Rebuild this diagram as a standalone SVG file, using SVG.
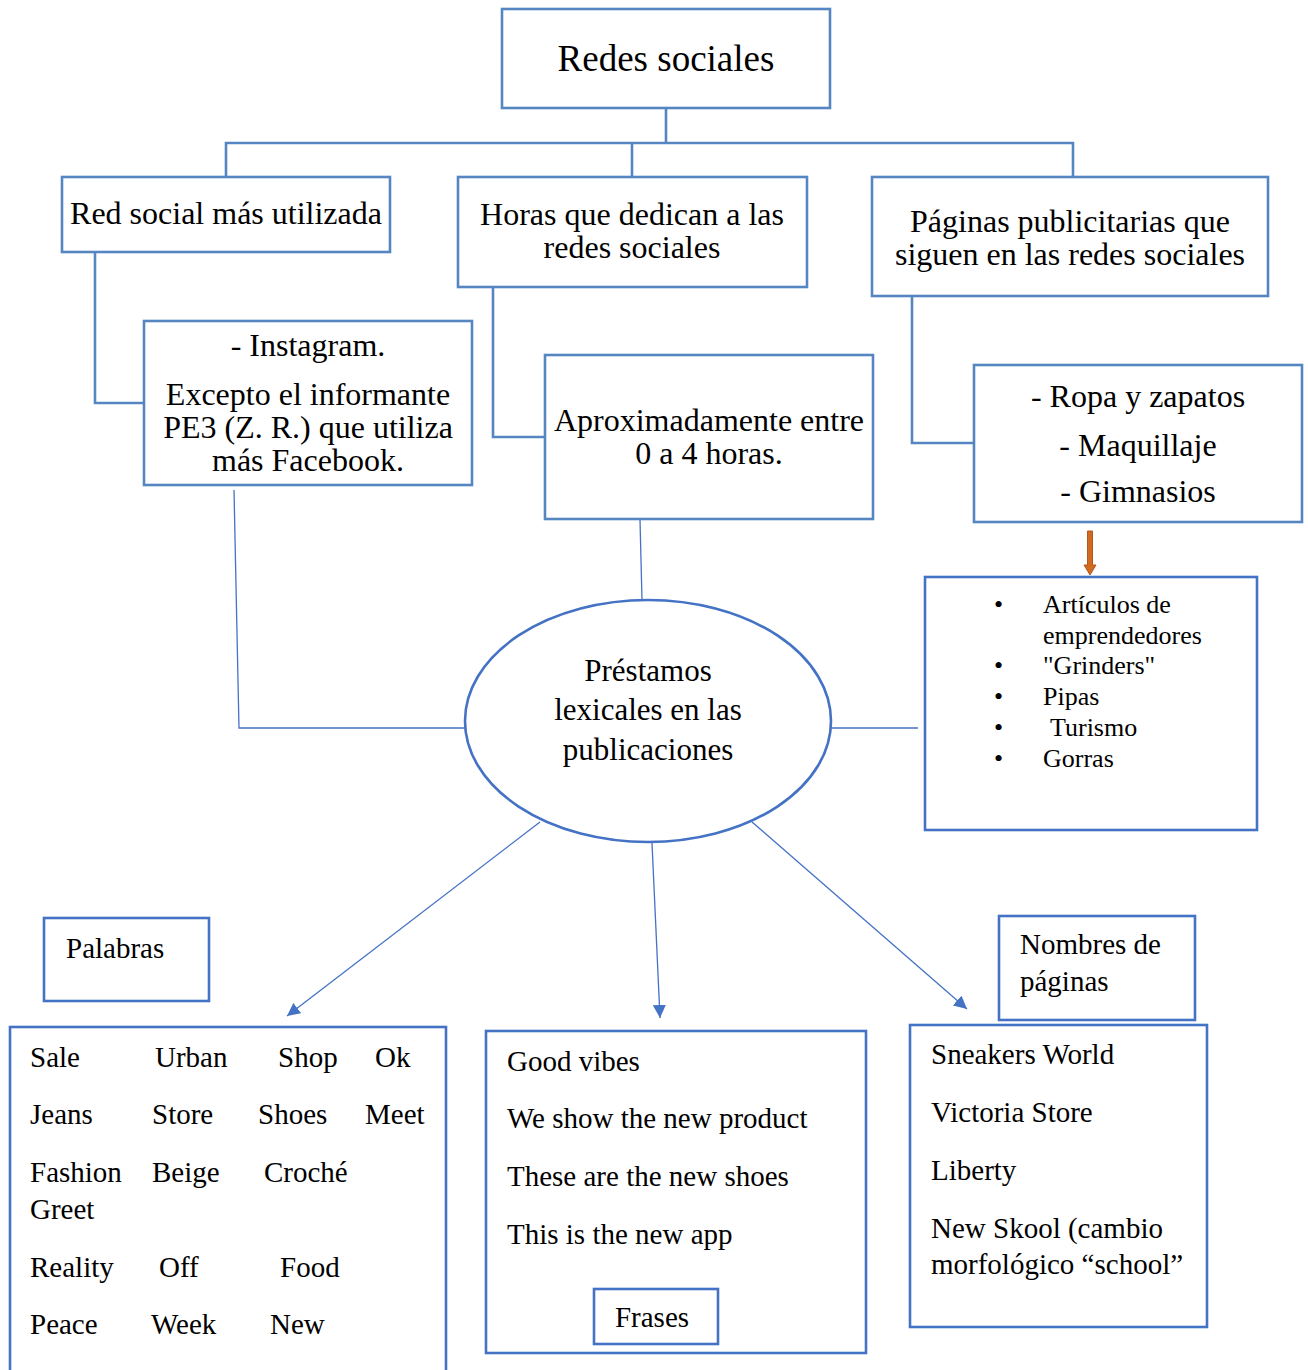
<svg xmlns="http://www.w3.org/2000/svg" width="1308" height="1370" viewBox="0 0 1308 1370">
<style>
  text { font-family: "Liberation Serif", "Times New Roman", serif; fill: #000; }
  .top { fill: #fff; stroke: #5586c2; stroke-width: 2.6; }
  .low { fill: #fff; stroke: #4472c4; stroke-width: 2.6; }
  .tree { fill: none; stroke: #5586c2; stroke-width: 2.6; }
  .thin { fill: none; stroke: #4472c4; stroke-width: 1.3; }
  .t32 { font-size: 32px; }
  .t29 { font-size: 29px; }
  .t26 { font-size: 26px; }
  .c { text-anchor: middle; }
</style>
<defs>
  <marker id="ah" viewBox="0 0 10 10" refX="10" refY="5" markerWidth="13" markerHeight="13" markerUnits="userSpaceOnUse" orient="auto">
    <path d="M0,0 L10,5 L0,10 Z" fill="#4472c4"/>
  </marker>
</defs>
<rect width="1308" height="1370" fill="#fff"/>

<g id="connectors">
  <path class="tree" d="M666,108 V143 M226,177 V143 H1073 V177 M632,143 V177"/>
  <path class="tree" d="M95,252 V403 H144"/>
  <path class="tree" d="M493,287 V437 H545"/>
  <path class="tree" d="M912,296 V443 H973"/>
  <path class="thin" d="M234,490 L239,728 H465"/>
  <path class="thin" d="M640,520 L642,600"/>
  <path class="thin" d="M831,728 H918"/>
  <path class="thin" d="M540,822 L287,1016" marker-end="url(#ah)"/>
  <path class="thin" d="M652,843 L660,1018" marker-end="url(#ah)"/>
  <path class="thin" d="M752,822 L967,1009" marker-end="url(#ah)"/>
  <path d="M1087.5,531 H1092.5 V565 H1096 L1090,575 L1084,565 H1087.5 Z" fill="#d2691e" stroke="#ae5a21" stroke-width="1"/>
</g>

<g id="n-title">
  <rect class="top" x="502" y="9" width="328" height="99"/>
  <text class="c" x="666" y="71" font-size="37">Redes sociales</text>
</g>
<g id="n-red">
  <rect class="top" x="62" y="177" width="328" height="75"/>
  <text class="c t32" x="226" y="224">Red social más utilizada</text>
</g>
<g id="n-horas">
  <rect class="top" x="458" y="177" width="349" height="110"/>
  <text class="c t32" x="632" y="225">Horas que dedican a las</text>
  <text class="c t32" x="632" y="258">redes sociales</text>
</g>
<g id="n-paginas">
  <rect class="top" x="872" y="177" width="396" height="119"/>
  <text class="c t32" x="1070" y="232">Páginas publicitarias que</text>
  <text class="c t32" x="1070" y="265">siguen en las redes sociales</text>
</g>
<g id="n-instagram">
  <rect class="top" x="144" y="321" width="328" height="164"/>
  <text class="c t32" x="308" y="356">- Instagram.</text>
  <text class="c t32" x="308" y="405">Excepto el informante</text>
  <text class="c t32" x="308" y="438">PE3 (Z. R.) que utiliza</text>
  <text class="c t32" x="308" y="471">más Facebook.</text>
</g>
<g id="n-aprox">
  <rect class="top" x="545" y="355" width="328" height="164"/>
  <text class="c t32" x="709" y="431">Aproximadamente entre</text>
  <text class="c t32" x="709" y="464">0 a 4 horas.</text>
</g>
<g id="n-ropa">
  <rect class="top" x="974" y="365" width="328" height="157"/>
  <text class="c t32" x="1138" y="407">- Ropa y zapatos</text>
  <text class="c t32" x="1138" y="456">- Maquillaje</text>
  <text class="c t32" x="1138" y="502">- Gimnasios</text>
</g>
<g id="n-articulos">
  <rect class="low" x="925" y="577" width="332" height="253"/>
  <g class="t26">
    <text x="994" y="613">•</text><text x="1043" y="613">Artículos de</text>
    <text x="1043" y="644">emprendedores</text>
    <text x="994" y="674">•</text><text x="1043" y="674">"Grinders"</text>
    <text x="994" y="705">•</text><text x="1043" y="705">Pipas</text>
    <text x="994" y="736">•</text><text x="1050" y="736">Turismo</text>
    <text x="994" y="767">•</text><text x="1043" y="767">Gorras</text>
  </g>
</g>
<g id="n-prestamos">
  <ellipse cx="648" cy="721" rx="183" ry="121" fill="#fff" stroke="#4472c4" stroke-width="2.6"/>
  <text class="c" x="648" y="681" font-size="31">Préstamos</text>
  <text class="c" x="648" y="720" font-size="31">lexicales en las</text>
  <text class="c" x="648" y="760" font-size="31">publicaciones</text>
</g>
<g id="n-palabras-label">
  <rect class="low" x="44" y="918" width="165" height="83"/>
  <text class="t29" x="66" y="958">Palabras</text>
</g>
<g id="n-palabras">
  <rect class="low" x="10" y="1027" width="436" height="360"/>
  <g class="t29">
    <text x="30" y="1067">Sale</text><text x="155" y="1067">Urban</text><text x="278" y="1067">Shop</text><text x="375" y="1067">Ok</text>
    <text x="30" y="1124">Jeans</text><text x="152" y="1124">Store</text><text x="258" y="1124">Shoes</text><text x="365" y="1124">Meet</text>
    <text x="30" y="1182">Fashion</text><text x="152" y="1182">Beige</text><text x="264" y="1182">Croché</text>
    <text x="30" y="1219">Greet</text>
    <text x="30" y="1277">Reality</text><text x="159" y="1277">Off</text><text x="280" y="1277">Food</text>
    <text x="30" y="1334">Peace</text><text x="151" y="1334">Week</text><text x="270" y="1334">New</text>
  </g>
</g>
<g id="n-frases">
  <rect class="low" x="486" y="1031" width="380" height="322"/>
  <g class="t29">
    <text x="507" y="1071">Good vibes</text>
    <text x="507" y="1128">We show the new product</text>
    <text x="507" y="1186">These are the new shoes</text>
    <text x="507" y="1244">This is the new app</text>
  </g>
</g>
<g id="n-frases-label">
  <rect class="low" x="594" y="1289" width="124" height="55"/>
  <text class="c t29" x="652" y="1327">Frases</text>
</g>
<g id="n-nombres-label">
  <rect class="low" x="999" y="916" width="196" height="104"/>
  <text class="t29" x="1020" y="954">Nombres de</text>
  <text class="t29" x="1020" y="991">páginas</text>
</g>
<g id="n-nombres">
  <rect class="low" x="910" y="1025" width="297" height="302"/>
  <g class="t29">
    <text x="931" y="1064">Sneakers World</text>
    <text x="931" y="1122">Victoria Store</text>
    <text x="931" y="1180">Liberty</text>
    <text x="931" y="1238">New Skool (cambio</text>
    <text x="931" y="1274">morfológico “school”</text>
  </g>
</g>
</svg>
